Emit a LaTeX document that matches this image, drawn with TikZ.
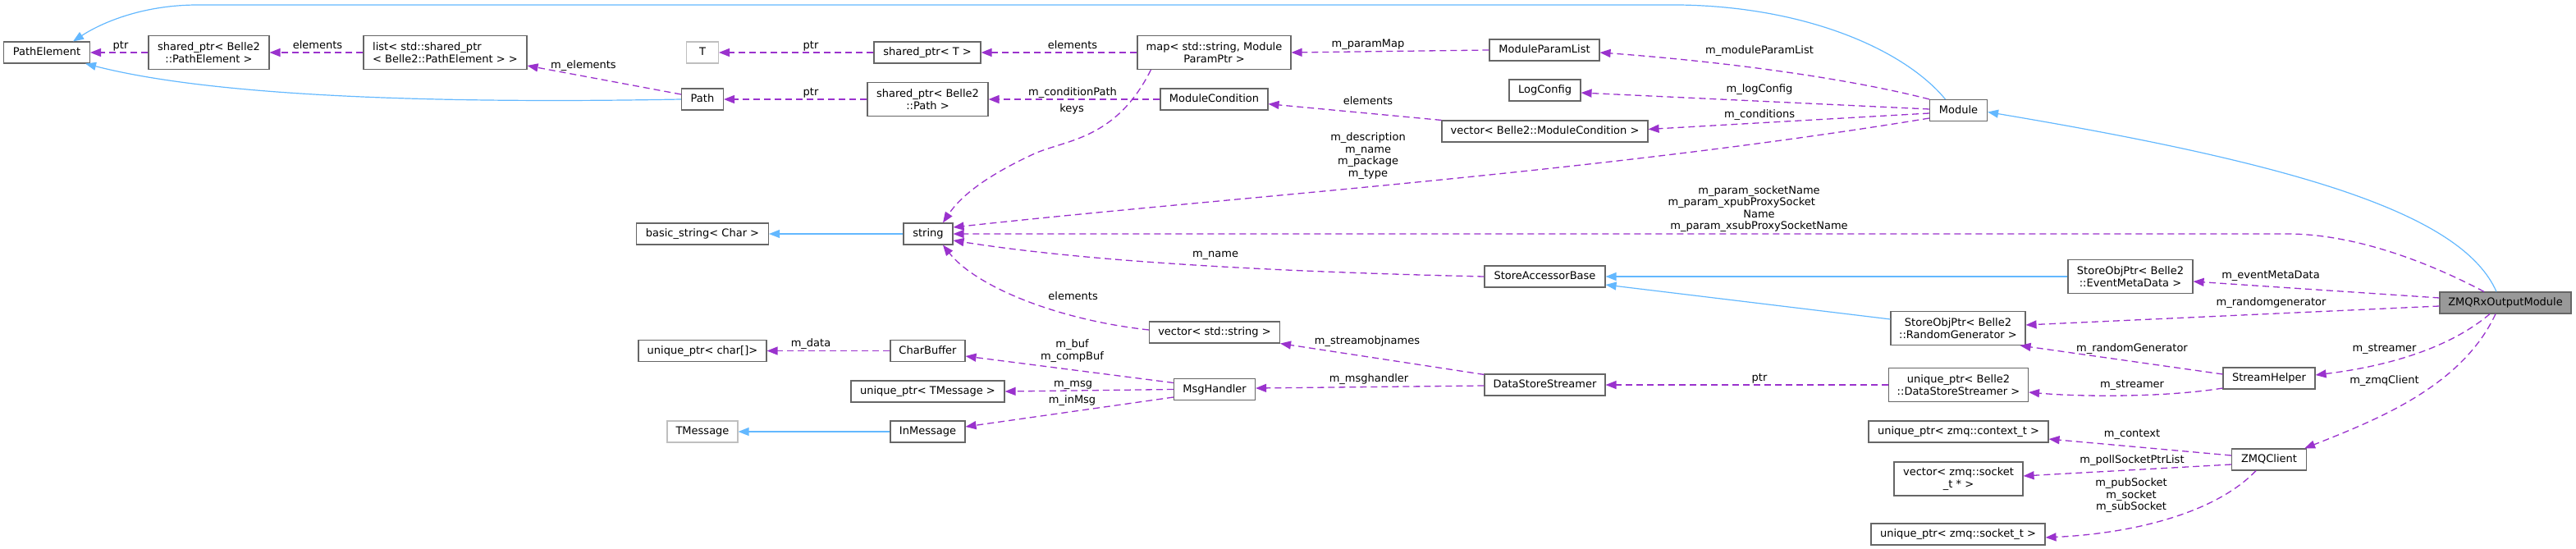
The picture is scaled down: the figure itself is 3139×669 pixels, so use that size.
\documentclass[tikz,border=0pt]{standalone}
\usepackage{fontspec}
\setmainfont{DejaVu Sans}
\usetikzlibrary{arrows.meta,calc}
\definecolor{cDep}{HTML}{9A32CD}
\definecolor{cInh}{HTML}{63B8FF}
\definecolor{cBorder}{HTML}{666666}
\definecolor{cLight}{HTML}{BFBFBF}
\definecolor{cHl}{HTML}{999999}
\newcommand{\nodefont}{\fontsize{13}{14.5}\selectfont}
\begin{document}
\begin{tikzpicture}[x=1pt,y=-1pt,
  box/.style={draw=cBorder,fill=white,line width=1.1pt,inner sep=0pt,font=\nodefont,minimum height=26pt},
  lightbox/.style={box,draw=cLight},
  two/.style={minimum height=41pt,align=center},
  one/.style={text height=9.5pt,text depth=2.5pt},
  lbl/.style={font=\nodefont,inner sep=0pt,align=center},
  lone/.style={lbl,text height=9.5pt,text depth=2.5pt},
  depl/.style={draw=cDep,line width=1.3pt,dash pattern=on 8pt off 5pt,-{Triangle[length=13pt,width=10pt]}},
  inhl/.style={draw=cInh,line width=1.2pt,-{Triangle[length=13pt,width=10pt]}}]
\useasboundingbox (0,0) rectangle (3139,669);

% ---- nodes ----
\node[box,one,minimum width=105pt] (pe) at (57,64) {PathElement};
\node[box,two,minimum width=147pt] (sppe) at (254.5,64) {shared\_ptr< Belle2\\::PathElement >};
\node[box,minimum height=41pt,align=left,minimum width=199pt] (list) at (542.5,64) {list< std::shared\_ptr\\< Belle2::PathElement > >};
\node[lightbox,one,minimum width=39pt] (T) at (856,64) {T};
\node[box,one,minimum width=130pt] (spT) at (1130,64) {shared\_ptr< T >};
\node[box,two,minimum width=187pt] (map) at (1479.5,64) {map< std::string, Module\\ParamPtr >};
\node[box,one,minimum width=51pt] (path) at (856,121) {Path};
\node[box,two,minimum width=147pt] (sppath) at (1130.5,121) {shared\_ptr< Belle2\\::Path >};
\node[box,one,minimum width=131pt] (mc) at (1479.5,121) {ModuleCondition};
\node[box,one,minimum width=134pt] (mpl) at (1882,61) {ModuleParamList};
\node[box,one,minimum width=87pt] (logc) at (1882.5,110) {LogConfig};
\node[box,one,minimum width=251pt] (vmc) at (1882.5,160) {vector< Belle2::ModuleCondition >};
\node[box,one,minimum width=70pt] (module) at (2386.5,134.5) {Module};
\node[box,one,minimum width=161pt] (bstr) at (856,285) {basic\_string< Char >};
\node[box,one,minimum width=60pt] (str) at (1131,285) {string};
\node[box,one,minimum width=147pt] (sab) at (1882.5,337) {StoreAccessorBase};
\node[box,two,minimum width=152pt] (emd) at (2596,337) {StoreObjPtr< Belle2\\::EventMetaData >};
\node[box,two,minimum width=164pt] (rg) at (2386,400) {StoreObjPtr< Belle2\\::RandomGenerator >};
\node[box,two,minimum width=170pt] (udss) at (2386.5,469) {unique\_ptr< Belle2\\::DataStoreStreamer >};
\node[box,one,minimum width=219pt] (ctx) at (2386.5,526) {unique\_ptr< zmq::context\_t >};
\node[box,two,minimum width=157pt] (vsock) at (2386.5,583.5) {vector< zmq::socket\\\_t * >};
\node[box,one,minimum width=212pt] (sock) at (2386,651) {unique\_ptr< zmq::socket\_t >};
\node[box,one,fill=cHl,minimum width=160pt] (zmqrx) at (3053,369) {ZMQRxOutputModule};
\node[box,one,minimum width=112pt] (sh) at (2765,461) {StreamHelper};
\node[box,one,minimum width=91pt] (zc) at (2765,560) {ZMQClient};
\node[box,one,minimum width=159pt] (vsr) at (1480,405) {vector< std::string >};
\node[box,one,minimum width=156pt] (uchar) at (856,427.5) {unique\_ptr< char[]>};
\node[box,one,minimum width=91pt] (cb) at (1130.5,427.5) {CharBuffer};
\node[box,one,minimum width=187pt] (utm) at (1130.5,477) {unique\_ptr< TMessage >};
\node[box,one,minimum width=99pt] (mh) at (1480,474.5) {MsgHandler};
\node[lightbox,one,minimum width=86pt] (tmsg) at (856,526) {TMessage};
\node[box,one,minimum width=91pt] (inm) at (1130.5,526) {InMessage};
\node[box,one,minimum width=147pt] (dss) at (1882.5,469) {DataStoreStreamer};

% ---- inheritance ----
\draw[inhl] (path.west) .. controls (500,127) and (250,115) .. ($(pe.south east)+(-6,0)$);
\draw[inhl] ($(module.north)+(-16,0)$) .. controls (2320,60) and (2200,8) .. (2046,6) -- (241,6) .. controls (170,6) and (120,30) .. ($(pe.north)+(32,0)$);
\draw[inhl] ($(zmqrx.north)+(-11,0)$) .. controls (3000,260) and (2800,200) .. ($(module.east)+(0,2)$);
\draw[inhl] (emd.west) -- (sab.east);
\draw[inhl] ($(rg.west)+(0,-11)$) -- ($(sab.east)+(0,10)$);
\draw[inhl] (inm.west) -- (tmsg.east);
\draw[inhl] (str.west) -- (bstr.east);

% ---- usage ----
\draw[depl] (sppe.west) -- (pe.east);
\draw[depl] (list.west) -- (sppe.east);
\draw[depl] ($(path.west)+(0,-6)$) -- ($(list.east)+(0,16)$);
\draw[depl] (spT.west) -- (T.east);
\draw[depl] (map.west) -- (spT.east);
\draw[depl] (mpl.west) -- (map.east);
\draw[depl] (sppath.west) -- (path.east);
\draw[depl] (mc.west) -- (sppath.east);
\draw[depl] ($(map.south west)+(17,0)$) .. controls (1360,170) and (1300,170) .. (1261,187) .. controls (1200,215) and (1170,240) .. ($(str.north)+(18,0)$);
\draw[depl] (vmc.north west) -- ($(mc.east)+(0,5.7)$);
\draw[depl] (module.north west) .. controls (2250,95) and (2100,75) .. ($(mpl.east)+(0,3)$);
\draw[depl] ($(module.west)+(0,-1.5)$) -- ($(logc.east)+(0,3)$);
\draw[depl] ($(module.west)+(0,3.5)$) -- ($(vmc.east)+(0,-2.5)$);
\draw[depl] ($(module.west)+(0,9.5)$) .. controls (1950,210) and (1500,240) .. ($(str.east)+(0,-8)$);
\draw[depl] (sab.west) .. controls (1500,330) and (1300,315) .. ($(str.east)+(0,8)$);
\draw[depl] ($(zmqrx.north)+(-26,0)$) .. controls (2960,320) and (2870,285) .. (2787,285) -- (str.east);
\draw[depl] ($(zmqrx.west)+(0,-6)$) -- ($(emd.east)+(0,6)$);
\draw[depl] ($(zmqrx.west)+(0,4)$) -- ($(rg.east)+(0,-4)$);
\draw[depl] (udss.west) -- (dss.east);
\draw[depl] ($(dss.north west)+(0,1)$) -- (vsr.south east);
\draw[depl] ($(dss.west)+(0,1)$) -- ($(mh.east)+(0,-1.5)$);
\draw[depl] ($(sh.west)+(0,-5)$) -- ($(rg.south east)+(-7,0)$);
\draw[depl] ($(sh.west)+(0,12)$) .. controls (2640,484) and (2540,484) .. ($(udss.east)+(0,9)$);
\draw[depl] ($(zmqrx.south)+(-19,0)$) .. controls (2990,420) and (2920,445) .. ($(sh.east)+(0,-4)$);
\draw[depl] ($(zmqrx.south)+(-12,0)$) .. controls (3000,470) and (2900,510) .. ($(zc.north east)+(-3,0)$);
\draw[depl] ($(zc.west)+(0,-5)$) -- ($(ctx.east)+(0,9)$);
\draw[depl] ($(zc.west)+(0,6)$) -- ($(vsock.east)+(0,-3.5)$);
\draw[depl] ($(zc.south)+(-16,0)$) .. controls (2700,625) and (2600,650) .. ($(sock.east)+(0,4)$);
\draw[depl] (cb.west) -- (uchar.east);
\draw[depl] ($(mh.west)+(0,-8)$) -- ($(cb.east)+(0,6.5)$);
\draw[depl] (mh.west) -- (utm.east);
\draw[depl] ($(mh.west)+(0,9.5)$) -- ($(inm.east)+(0,-6)$);
\draw[depl] ($(vsr.west)+(0,-3)$) .. controls (1290,390) and (1190,350) .. ($(str.south)+(18,0)$);

% ---- labels ----
\node[lone] (l1) at (147,56) {ptr};
\node[lone] (l2) at (387,56) {elements};
\node[lone] (l3) at (711,79.5) {m\_elements};
\node[lone] (l4) at (988,56) {ptr};
\node[lone] (l5) at (988,113) {ptr};
\node[lone] (l6) at (1307,56) {elements};
\node[lone] (l7) at (1307,113) {m\_conditionPath};
\node[lone] (l8) at (1306,133) {keys};
\node[lone] (l9) at (1667,54) {m\_paramMap};
\node[lone] (l10) at (2144,62) {m\_moduleParamList};
\node[lone] (l11) at (2144,109) {m\_logConfig};
\node[lone] (l12) at (2144,139.5) {m\_conditions};
\node[lone] (l13) at (1667,123.5) {elements};
\node[lbl] (l14) at (1667,190) {m\_description\\m\_name\\m\_package\\m\_type};
\node[lbl] (l15) at (2143.5,254.5) {m\_param\_socketName\\\makebox[222pt][l]{m\_param\_xpubProxySocket}\\Name\\m\_param\_xsubProxySocketName};
\node[lone] (l16) at (1481,310) {m\_name};
\node[lone] (l17) at (2767,335.5) {m\_eventMetaData};
\node[lone] (l18) at (2767.5,369.3) {m\_randomgenerator};
\node[lone] (l19) at (2598,425) {m\_randomGenerator};
\node[lone] (l20) at (2598,469.3) {m\_streamer};
\node[lone] (l21) at (2905.5,425) {m\_streamer};
\node[lone] (l22) at (2905.5,464.3) {m\_zmqClient};
\node[lone] (l23) at (2598,528.7) {m\_context};
\node[lone] (l24) at (2598,561) {m\_pollSocketPtrList};
\node[lbl] (l25) at (2597,604) {m\_pubSocket\\m\_socket\\m\_subSocket};
\node[lone] (l26) at (2144,461) {ptr};
\node[lone] (l27) at (1666,415.7) {m\_streamobjnames};
\node[lone] (l28) at (1668,461.7) {m\_msghandler};
\node[lone] (l29) at (1307.6,361.7) {elements};
\node[lone] (l30) at (988,419.3) {m\_data};
\node[lbl] (l31) at (1306.5,427.7) {m\_buf\\m\_compBuf};
\node[lone] (l32) at (1307.6,467.7) {m\_msg};
\node[lone] (l33) at (1306.6,487.7) {m\_inMsg};
\end{tikzpicture}
\end{document}
